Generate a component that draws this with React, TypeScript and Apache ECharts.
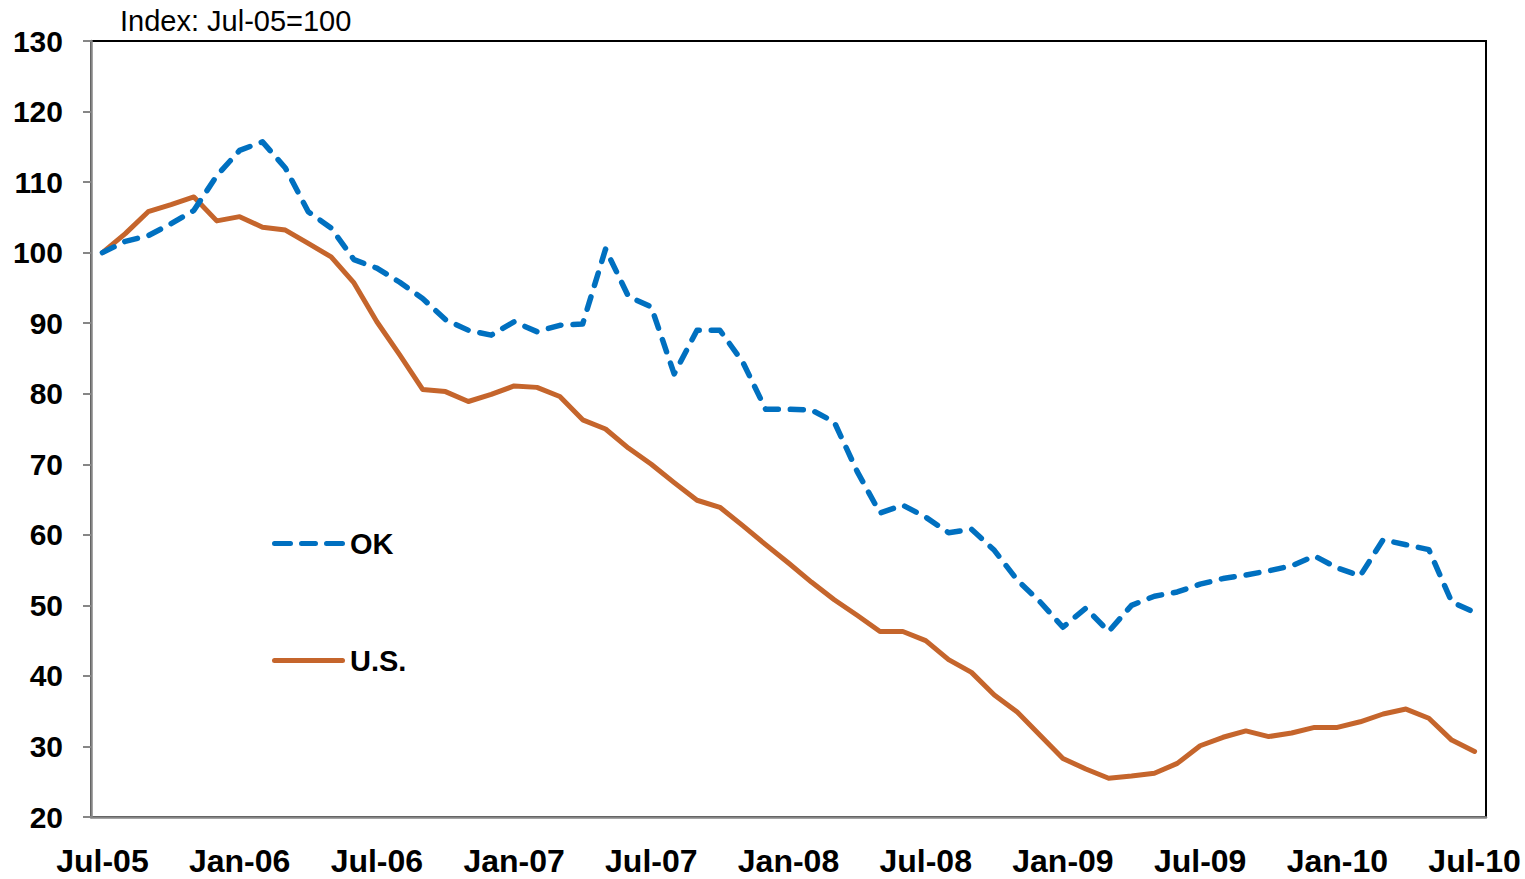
import React, { useEffect, useRef } from "react";
import * as echarts from "echarts";

const MONTHS = ["Jan", "Feb", "Mar", "Apr", "May", "Jun", "Jul", "Aug", "Sep", "Oct", "Nov", "Dec"];
const categories: string[] = [];
for (let i = 0; i < 61; i++) {
  const m = (6 + i) % 12;
  const y = 5 + Math.floor((6 + i) / 12);
  categories.push(`${MONTHS[m]}-${String(y).padStart(2, "0")}`);
}

const okValues = [
  100, 101.6, 102.4, 104.1, 106, 110.9, 114.5, 115.7, 112, 105.8,
  103.5, 99, 97.8, 95.8, 93.5, 90.5, 89, 88.3, 90.2, 88.8,
  89.7, 89.9, 100.5, 93.8, 92.3, 82.8, 89, 89, 84.5, 77.8,
  77.8, 77.7, 76, 69, 63.1, 64.2, 62.5, 60.3, 60.8, 57.8,
  53.6, 50.5, 46.9, 49.6, 46.3, 50, 51.3, 51.9, 53, 53.8,
  54.3, 54.9, 55.6, 57, 55.3, 54.2, 59.3, 58.6, 57.9, 50.5,
  49,
];

const usValues = [
  100, 102.7, 105.8, 106.8, 107.9, 104.5, 105.1, 103.6, 103.2, 101.3,
  99.4, 95.7, 90.2, 85.5, 80.6, 80.3, 78.9, 79.9, 81.1, 80.9,
  79.6, 76.3, 75, 72.3, 70, 67.4, 64.9, 63.9, 61.3, 58.6,
  56, 53.3, 50.8, 48.6, 46.3, 46.3, 45, 42.3, 40.5, 37.3,
  34.9, 31.6, 28.3, 26.8, 25.5, 25.8, 26.2, 27.6, 30.1, 31.3,
  32.2, 31.4, 31.9, 32.7, 32.7, 33.5, 34.6, 35.3, 34, 30.9,
  29.3,
];

const titleText = "Index: Jul-05=100";
const FONT = "'Liberation Sans', Arial, sans-serif";

const DASH_ICON =
  "path://M2.5,0h16a2.5,2.5,0,0,1,0,5h-16a2.5,2.5,0,0,1,0,-5z" +
  "M29.5,0h14a2.5,2.5,0,0,1,0,5h-14a2.5,2.5,0,0,1,0,-5z" +
  "M54.5,0h16a2.5,2.5,0,0,1,0,5h-16a2.5,2.5,0,0,1,0,-5z";
const SOLID_ICON = "path://M2.5,0h68a2.5,2.5,0,0,1,0,5h-68a2.5,2.5,0,0,1,0,-5z";

export default function App() {
  const ref = useRef<HTMLDivElement>(null);
  useEffect(() => {
    if (!ref.current) return;
    const chart = echarts.init(ref.current, undefined, { renderer: "svg" });
    chart.setOption({
      animation: false,
      backgroundColor: "#fff",
      title: {
        text: titleText,
        left: 115,
        top: 1,
        textStyle: { fontFamily: FONT, fontSize: 29, fontWeight: "normal", color: "#000" },
      },
      grid: {
        left: 91,
        right: 39,
        top: 41,
        bottom: 62,
        show: true,
        borderColor: "#000",
        borderWidth: 2,
        backgroundColor: "transparent",
      },
      legend: {
        orient: "vertical",
        left: 272,
        top: 529,
        padding: 0,
        itemWidth: 73,
        itemHeight: 5.5,
        itemGap: 88,
        textStyle: { fontFamily: FONT, fontSize: 29, fontWeight: "bold", color: "#000", lineHeight: 28 },
        data: [
          { name: "OK", icon: DASH_ICON },
          { name: "U.S.", icon: SOLID_ICON },
        ],
      },
      xAxis: {
        type: "category",
        data: categories,
        boundaryGap: true,
        axisLine: { lineStyle: { color: "#868686", width: 2.5 } },
        axisTick: { interval: 5, length: 8, lineStyle: { color: "#868686", width: 2 } },
        axisLabel: {
          interval: 5,
          margin: 28,
          fontFamily: FONT,
          fontSize: 32,
          fontWeight: "bold",
          color: "#000",
        },
        splitLine: { show: false },
      },
      yAxis: {
        type: "value",
        min: 20,
        max: 130,
        interval: 10,
        axisLine: { show: true, lineStyle: { color: "#868686", width: 2.5 } },
        axisTick: { show: true, length: 8, lineStyle: { color: "#868686", width: 2 } },
        axisLabel: {
          margin: 28,
          fontFamily: FONT,
          fontSize: 30,
          fontWeight: "bold",
          color: "#000",
        },
        splitLine: { show: false },
      },
      series: [
        {
          name: "OK",
          type: "line",
          data: okValues,
          showSymbol: false,
          symbol: "none",
          lineStyle: { color: "#0070C0", width: 5.5, type: [13, 12], cap: "round", join: "round" },
          itemStyle: { color: "#0070C0" },
          z: 3,
        },
        {
          name: "U.S.",
          type: "line",
          data: usValues,
          showSymbol: false,
          symbol: "none",
          lineStyle: { color: "#C5652C", width: 5, cap: "round", join: "round" },
          itemStyle: { color: "#C5652C" },
          z: 2,
        },
      ],
    });
    return () => chart.dispose();
  }, []);
  return (
    <div
      ref={ref}
      style={{ position: "fixed", left: 0, top: 0, width: 1525, height: 879, background: "#fff" }}
    />
  );
}
